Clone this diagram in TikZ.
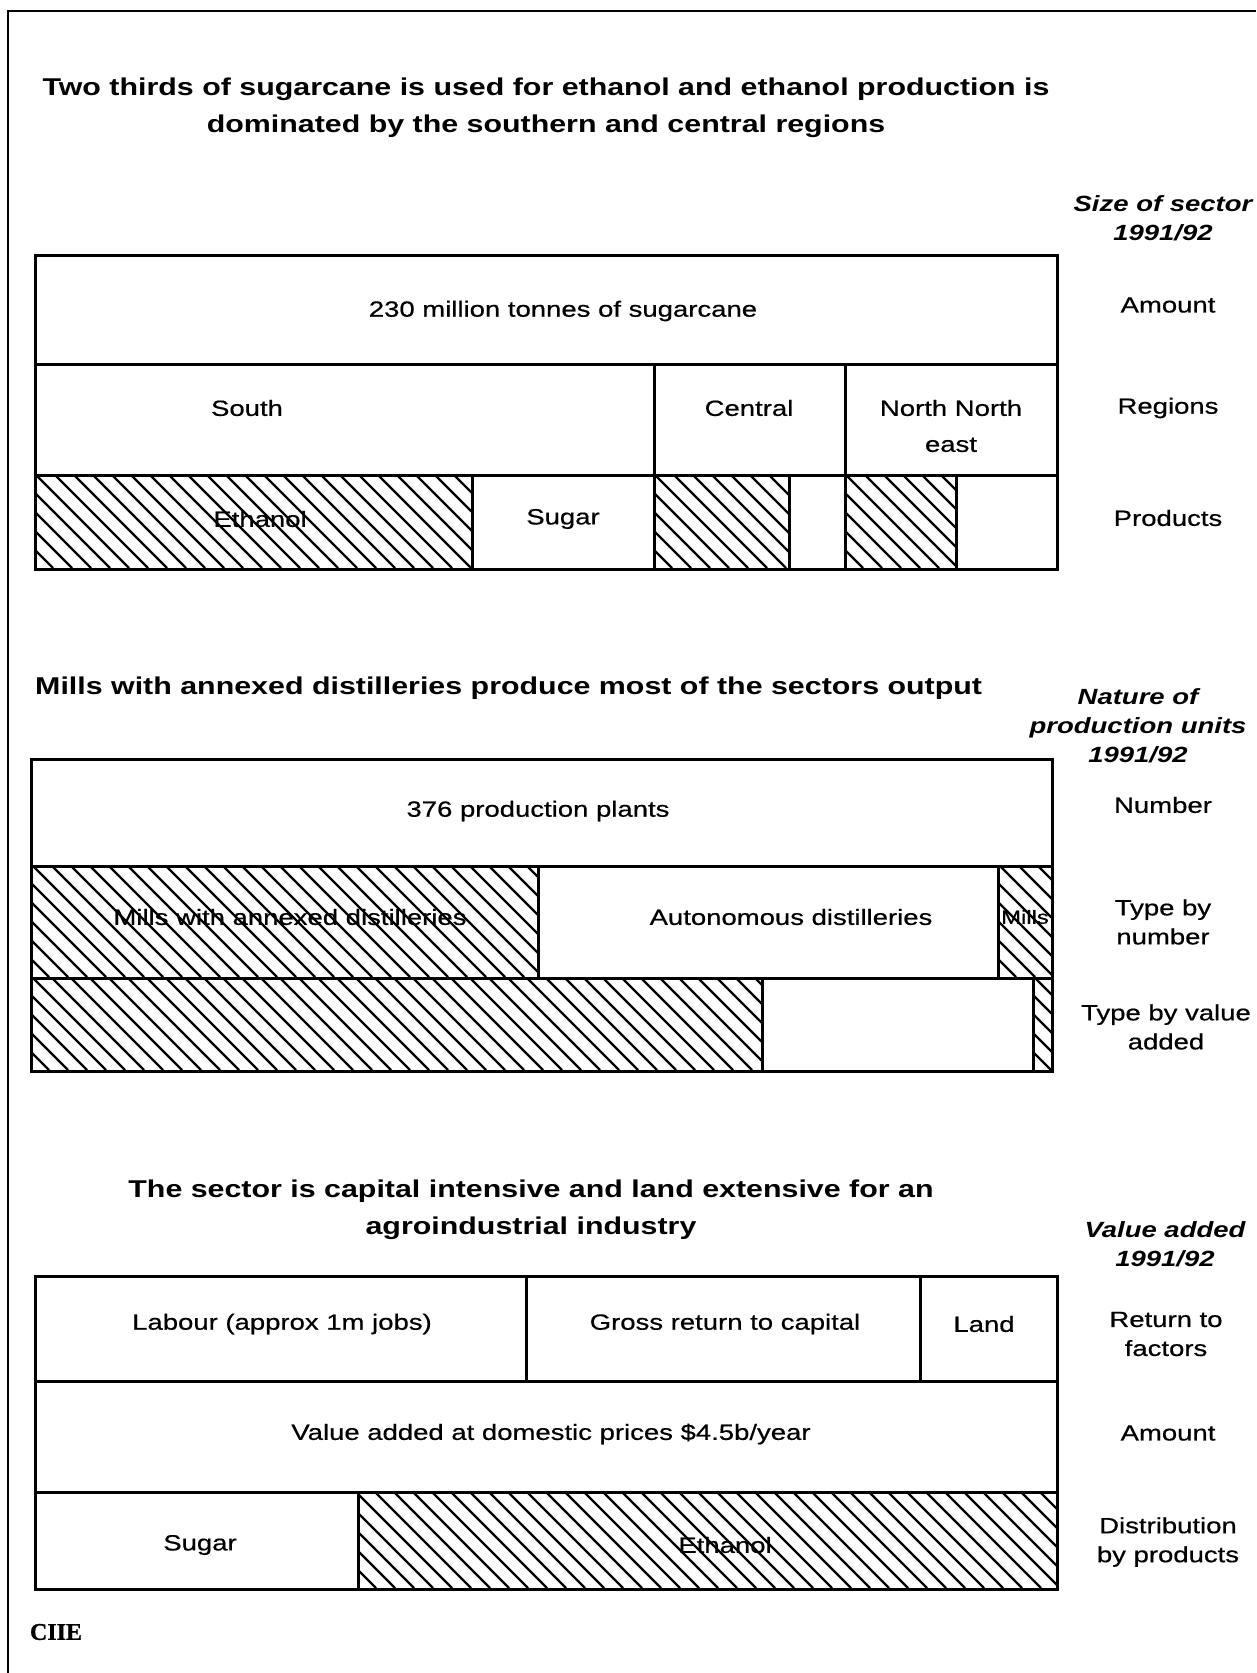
\documentclass[tikz,border=0pt]{standalone}
\usepackage{fontspec}
\setmainfont[FakeStretch=1.25]{Liberation Sans}
\newfontfamily\medfont[FakeStretch=1.25,FakeBold=0.6]{Liberation Sans}
\newfontfamily\logofont[FakeBold=1]{Liberation Serif}
\newcommand{\ttlfont}{\fontsize{24.3}{37}\selectfont\bfseries}
\newcommand{\tabfont}{\medfont\fontsize{22}{36}\selectfont}
\newcommand{\lblfont}{\medfont\fontsize{22}{29}\selectfont}
\newcommand{\hdrfont}{\fontsize{22}{29}\selectfont\bfseries\itshape}
\tikzset{
  cellbox/.style={draw=black, line width=2.6pt, inner sep=0pt, anchor=north west},
  hatchline/.style={draw=black, line width=2.3pt},
  txt/.style={font=\tabfont, inner sep=0pt, align=center},
  lbl/.style={font=\lblfont, inner sep=0pt, align=center},
  hdr/.style={font=\hdrfont, inner sep=0pt, align=center},
  ttl/.style={font=\ttlfont, inner sep=0pt, align=center},
  framerule/.style={draw=black, line width=2.6pt},
}
% cell: name, x1, y1, x2, y2
\newcommand{\cellat}[5]{%
  \pgfmathsetmacro{\cw}{#4-#2}\pgfmathsetmacro{\ch}{#5-#3}%
  \node[cellbox, minimum width=\cw pt, minimum height=\ch pt] (#1) at (#2,#3) {};}
% hatched region: x1, y1, x2, y2
\newcommand{\hatchbox}[4]{%
  \begin{scope}
    \clip (#1,#2) rectangle (#3,#4);
    \pgfmathsetmacro{\hh}{#4-#2}%
    \pgfmathsetmacro{\hs}{#1-\hh}%
    \pgfmathsetmacro{\hn}{\hs+19}%
    \foreach \a in {\hs,\hn,...,#3} \draw[hatchline] (\a,#2) -- ++(\hh,\hh);
  \end{scope}}
\begin{document}
\begin{tikzpicture}[x=1pt,y=-1pt]
\useasboundingbox (0,0) rectangle (1256,1673);
\fill[white] (0,0) rectangle (1256,1673);
% frame
\coordinate (frameBL) at (8,1673);
\coordinate (frameTL) at (8,11);
\coordinate (frameTR) at (1256,11);
\draw[framerule] (frameBL) -- (frameTL) -- (frameTR);

% ---------- Section 1 ----------
\node[ttl] (title1) at (546,108) {Two thirds of sugarcane is used for ethanol and ethanol production is\\dominated by the southern and central regions};
\node[hdr] (hdr1) at (1163,218) {Size of sector\\1991/92};

\hatchbox{34}{474}{471}{568}
\hatchbox{653}{474}{788}{568}
\hatchbox{844}{474}{955}{568}
\cellat{amount1}{34}{254}{1056}{363}
\cellat{south}{34}{363}{653}{474}
\cellat{central}{653}{363}{844}{474}
\cellat{nne}{844}{363}{1056}{474}
\cellat{ethS}{34}{474}{471}{568}
\cellat{sugS}{471}{474}{653}{568}
\cellat{ethC}{653}{474}{788}{568}
\cellat{sugC}{788}{474}{844}{568}
\cellat{ethN}{844}{474}{955}{568}
\cellat{sugN}{955}{474}{1056}{568}

\node[txt] (t230) at (563,311) {230 million tonnes of sugarcane};
\node[txt] (tsouth) at (247,408) {South};
\node[txt] (tcentral) at (749,408) {Central};
\node[txt] (tnne) at (951,426) {North North\\east};
\node[txt] (teth1) at (260,519) {Ethanol};
\node[txt] (tsug1) at (563,519) {Sugar};

\node[lbl] (lamount1) at (1168,305) {Amount};
\node[lbl] (lregions) at (1168,408) {Regions};
\node[lbl] (lproducts) at (1168,518) {Products};

% ---------- Section 2 ----------
\node[ttl, anchor=west] (title2) at (35,688) {Mills with annexed distilleries produce most of the sectors output};
\node[hdr] (hdr2) at (1138,726) {Nature of\\production units\\1991/92};

\hatchbox{30}{865}{537}{977}
\hatchbox{997}{865}{1051}{977}
\hatchbox{30}{977}{761}{1070}
\hatchbox{1032}{977}{1051}{1070}
\cellat{plants}{30}{758}{1051}{865}
\cellat{mwad}{30}{865}{537}{977}
\cellat{auto}{537}{865}{997}{977}
\cellat{mills}{997}{865}{1051}{977}
\cellat{vamwad}{30}{977}{761}{1070}
\cellat{vaauto}{761}{977}{1032}{1070}
\cellat{vamills}{1032}{977}{1051}{1070}

\node[txt] (t376) at (538,811) {376 production plants};
\node[txt] (tmwad) at (290,917) {Mills with annexed distilleries};
\node[txt] (tauto) at (791,917) {Autonomous distilleries};
\node[txt, font=\medfont\fontsize{19}{22}\selectfont] (tmills) at (1025,917) {Mills};

\node[lbl] (lnumber) at (1163,805) {Number};
\node[lbl] (ltypenum) at (1163,922) {Type by\\number};
\node[lbl] (ltypeva) at (1166,1027) {Type by value\\added};

% ---------- Section 3 ----------
\node[ttl] (title3) at (531,1210) {The sector is capital intensive and land extensive for an\\agroindustrial industry};
\node[hdr] (hdr3) at (1165,1244) {Value added\\1991/92};

\hatchbox{357}{1491}{1056}{1588}
\cellat{labour}{34}{1275}{525}{1380}
\cellat{capital}{525}{1275}{919}{1380}
\cellat{land}{919}{1275}{1056}{1380}
\cellat{vatotal}{34}{1380}{1056}{1491}
\cellat{sug3}{34}{1491}{357}{1588}
\cellat{eth3}{357}{1491}{1056}{1588}

\node[txt] (tlabour) at (282,1324) {Labour (approx 1m jobs)};
\node[txt] (tcapital) at (725,1324) {Gross return to capital};
\node[txt] (tland) at (984,1324) {Land};
\node[txt] (tva) at (551,1434) {Value added at domestic prices \$4.5b/year};
\node[txt] (tsug3) at (200,1545) {Sugar};
\node[txt] (teth3) at (725,1545) {Ethanol};

\node[lbl] (lreturn) at (1166,1334) {Return to\\factors};
\node[lbl] (lamount3) at (1168,1433) {Amount};
\node[lbl] (ldist) at (1168,1542) {Distribution\\by products};

\node[inner sep=0pt, font=\logofont\bfseries\fontsize{24}{26}\selectfont] (logo) at (56,1632) {CIIE};
\end{tikzpicture}
\end{document}
